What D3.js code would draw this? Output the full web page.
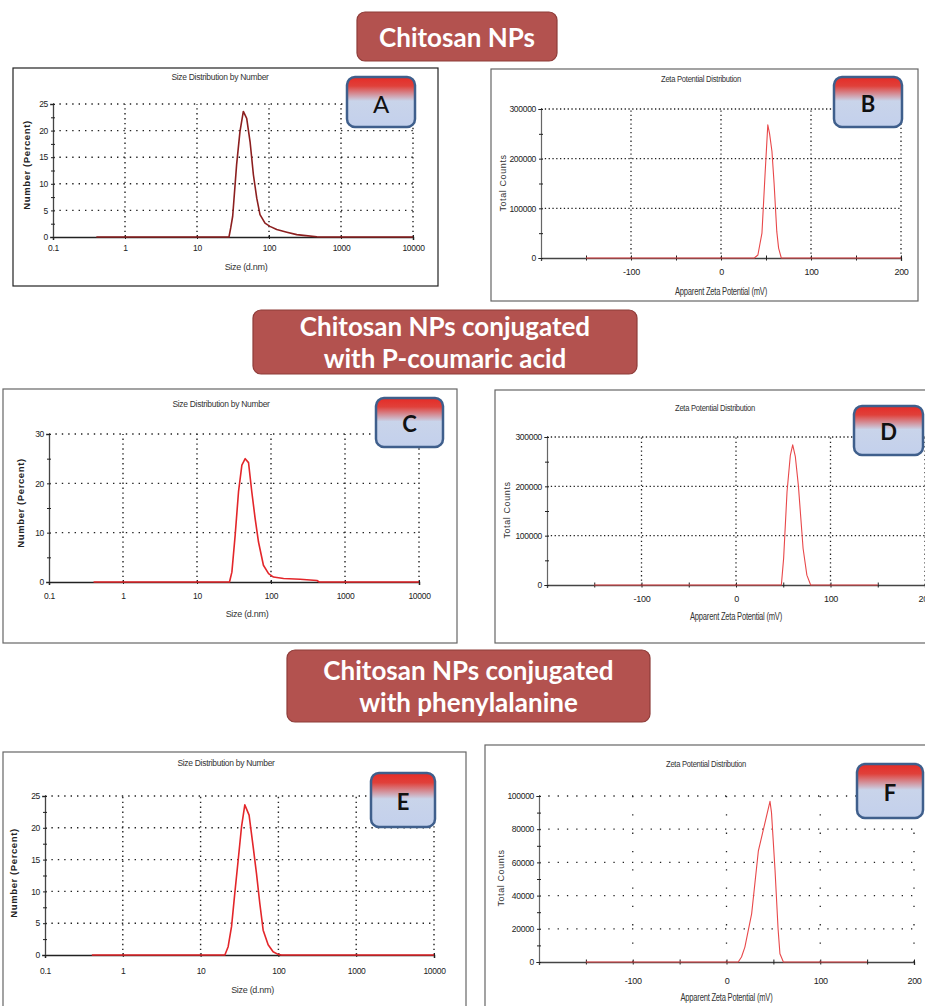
<!DOCTYPE html>
<html><head><meta charset="utf-8">
<script src="https://cdn.jsdelivr.net/npm/d3@7"></script>
<style>body{margin:0;background:#fff}svg{display:block}</style>
</head><body><svg id="c" width="925" height="1006"></svg>
<script>
// ---------- data ----------
const sizeTicks = [0.1, 1, 10, 100, 1000, 10000];
const zetaTicks = [-150, -100, -50, 0, 50, 100, 150, 200];
const zetaLabels = [-100, 0, 100, 200];
const pctTicksAE = [0, 5, 10, 15, 20, 25];
const pctTicksC = [0, 10, 20, 30];
const countTicksBD = [0, 100000, 200000, 300000];
const countTicksF = [0, 20000, 40000, 60000, 80000, 100000];

const sizeA_nm  = [0.4, 27.8, 29.4, 31.3, 35.5, 39.5, 44, 49, 54.6, 60.7, 67.6, 75, 88, 103, 128, 177, 243, 301, 462, 520, 10000];
const sizeA_pct = [0, 0, 1.7, 3.9, 13.6, 19.8, 23.6, 22.3, 17.9, 11.7, 7.3, 4.2, 2.6, 2.0, 1.4, 0.9, 0.45, 0.3, 0.05, 0, 0];

const sizeC_nm  = [0.4, 27.5, 29.6, 32.8, 36.4, 40.4, 44.8, 49.7, 55, 61, 67.8, 79, 92.7, 108, 148, 248, 417, 450, 10000];
const sizeC_pct = [0, 0, 2.0, 9.5, 18.3, 23.7, 25.0, 24.2, 18.3, 12.9, 8.1, 3.4, 1.7, 1.0, 0.7, 0.55, 0.3, 0, 0];

const sizeE_nm  = [0.4, 20.5, 22.6, 25, 27.5, 30.4, 33.6, 37, 42, 47.4, 52.3, 57.7, 63.7, 73.8, 85.5, 99, 110, 10000];
const sizeE_pct = [0, 0, 1.3, 4.5, 9.7, 14.9, 20.2, 23.6, 22.0, 17, 12.8, 8.1, 3.9, 1.6, 0.5, 0.1, 0, 0];

const zetaB_mv  = [-150, 37, 41, 45.5, 49, 52, 54, 56.6, 59, 62, 64, 67, 200];
const zetaB_cnt = [0, 0, 6000, 50000, 170000, 268000, 250000, 215000, 150000, 53000, 20000, 0, 0];

const zetaD_mv  = [-150, 48, 50.4, 54, 57.5, 60, 62.8, 66, 71, 75, 79, 150];
const zetaD_cnt = [0, 0, 54000, 189000, 263000, 284000, 260000, 202000, 74000, 20000, 0, 0];

const zetaF_mv  = [-150, 12.5, 16, 19.6, 26.8, 34, 39, 46.4, 48, 51.8, 55, 57, 60.7, 150];
const zetaF_cnt = [0, 0, 3000, 9000, 29000, 67000, 79000, 96800, 90000, 55000, 20000, 5000, 0, 0];

const bannerTexts = [["Chitosan NPs"], ["Chitosan NPs conjugated", "with P-coumaric acid"], ["Chitosan NPs conjugated", "with phenylalanine"]];
const badgeLetters = ["A", "B", "C", "D", "E", "F"];

// ---------- drawing ----------
const svg = d3.select("#c");
const FONT = "'Liberation Sans',Arial,sans-serif";
const defs = svg.append("defs");
const grad = defs.append("linearGradient").attr("id", "badgeGrad").attr("x1", 0).attr("y1", 0).attr("x2", 0).attr("y2", 1);
grad.append("stop").attr("offset", "0%").attr("stop-color", "#e52b26");
grad.append("stop").attr("offset", "18%").attr("stop-color", "#e0403a");
grad.append("stop").attr("offset", "48%").attr("stop-color", "#c9d4ea");
grad.append("stop").attr("offset", "100%").attr("stop-color", "#c3d0ec");

function banner(b, lines) {
  const g = svg.append("g");
  g.append("rect").attr("x", b.x).attr("y", b.y).attr("width", b.w).attr("height", b.h)
    .attr("rx", 8).attr("fill", "#b3524f").attr("stroke", "#8e3c39").attr("stroke-width", 1.2);
  const n = lines.length, lh = 31.5;
  lines.forEach((t, i) => {
    g.append("text").attr("x", b.x + b.w / 2).attr("y", b.y + b.h / 2 + (i - (n - 1) / 2) * lh)
      .attr("text-anchor", "middle").attr("dominant-baseline", "central")
      .attr("font-family", "Lato,'Open Sans',sans-serif").attr("font-weight", "bold")
      .attr("font-size", 26).attr("fill", "#fff").text(t);
  });
}

function badge(b, letter, bold) {
  const g = svg.append("g");
  g.append("rect").attr("x", b.x).attr("y", b.y).attr("width", b.w).attr("height", b.h)
    .attr("rx", 8).attr("fill", "url(#badgeGrad)").attr("stroke", "#3f5f8c").attr("stroke-width", 2.5);
  g.append("text").attr("x", b.x + b.w / 2).attr("y", b.y + b.h / 2 + 1)
    .attr("text-anchor", "middle").attr("dominant-baseline", "central")
    .attr("font-family", "Lato,'Open Sans',sans-serif").attr("font-weight", bold ? "bold" : "normal")
    .attr("font-size", bold ? 22 : 24).attr("fill", "#111").text(letter);
}

function frame(f, color) {
  svg.append("rect").attr("x", f.x0).attr("y", f.y0).attr("width", f.x1 - f.x0).attr("height", f.y1 - f.y0)
    .attr("fill", "#fff").attr("stroke", color || "#666").attr("stroke-width", 1.2);
}

function styleText(sel, size) {
  return sel.attr("font-family", FONT).attr("font-size", size).attr("letter-spacing", -0.3).attr("fill", "#222");
}

function sizePanel(p) {
  frame(p.frame, p.frameColor);
  const x = d3.scaleLog().domain([0.1, 10000]).range([p.x0, p.x1]);
  const y = d3.scaleLinear().domain([0, p.ymax]).range([p.y0, p.yTop]);
  const g = svg.append("g");
  g.selectAll(".hg").data(p.yTicks.filter(d => d > 0)).join("line")
    .attr("x1", p.x0).attr("x2", p.x1).attr("y1", d => y(d)).attr("y2", d => y(d))
    .attr("stroke", "#222").attr("stroke-width", 1.4).attr("stroke-dasharray", "1.4,5");
  g.selectAll(".vg").data(sizeTicks.slice(1)).join("line")
    .attr("x1", d => x(d)).attr("x2", d => x(d)).attr("y1", p.y0).attr("y2", p.yTop)
    .attr("stroke", "#222").attr("stroke-width", 1.4).attr("stroke-dasharray", "1.4,3.5");
  const xa = g.append("g").attr("transform", `translate(0,${p.y0})`)
    .call(d3.axisBottom(x).tickValues(sizeTicks).tickFormat(d => String(d)).tickSize(3).tickPadding(p.tickPad));
  xa.select(".domain").attr("stroke", "#222").attr("stroke-width", 1.5);
  xa.selectAll(".tick line").attr("y1", -2).attr("y2", 2).attr("stroke", "#222");
  styleText(xa.selectAll("text"), 8.5);
  const minor = d3.range(0, p.ymax + 0.001, p.yMinor);
  const ya = g.append("g").attr("transform", `translate(${p.x0},0)`)
    .call(d3.axisLeft(y).tickValues(minor).tickFormat(d => p.yTicks.includes(d) ? d : "").tickSize(3).tickPadding(2));
  ya.select(".domain").attr("stroke", "#444").attr("stroke-width", 1.3);
  ya.selectAll(".tick line").attr("x1", -2).attr("x2", 2).attr("stroke", "#222");
  styleText(ya.selectAll("text"), 8.5);
  const pts = p.xs.map((v, i) => [v, p.ys[i]]);
  g.append("path").datum(pts)
    .attr("d", d3.line().x(d => x(d[0])).y(d => y(d[1])))
    .attr("fill", "none").attr("stroke", p.color).attr("stroke-width", 1.6).attr("stroke-linejoin", "round");
  styleText(svg.append("text").attr("x", p.titleX).attr("y", p.titleY).attr("text-anchor", "middle"), 8.5)
    .attr("fill", "#333").text("Size Distribution by Number");
  styleText(svg.append("text").attr("x", (p.x0 + p.x1) / 2 + 13).attr("y", p.xlabY).attr("text-anchor", "middle"), 9)
    .attr("fill", "#333").text("Size (d.nm)");
  styleText(svg.append("text").attr("transform", `translate(${p.ylabX},${p.ylabY}) rotate(-90)`).attr("text-anchor", "middle"), 9.5)
    .attr("font-weight", "bold").attr("letter-spacing", 0.6).text("Number (Percent)");
}

function zetaPanel(p) {
  frame(p.frame, p.frameColor);
  const x = d3.scaleLinear().domain([-200, 200]).range([p.x0, p.x1]);
  const y = d3.scaleLinear().domain([0, p.ymax]).range([p.y0, p.yTop]);
  const g = svg.append("g");
  g.selectAll(".hg").data(p.yTicks.filter(d => d > 0)).join("line")
    .attr("x1", p.x0).attr("x2", p.x1).attr("y1", d => y(d)).attr("y2", d => y(d))
    .attr("stroke", "#222").attr("stroke-width", 1.3).attr("stroke-dasharray", p.hDash);
  g.selectAll(".vg").data(zetaLabels).join("line")
    .attr("x1", d => x(d)).attr("x2", d => x(d)).attr("y1", p.y0).attr("y2", p.yTop)
    .attr("stroke", "#222").attr("stroke-width", 1.3).attr("stroke-dasharray", p.vDash);
  const xa = g.append("g").attr("transform", `translate(0,${p.y0})`)
    .call(d3.axisBottom(x).tickValues(zetaTicks).tickFormat(d => zetaLabels.includes(d) ? d : "").tickSize(3).tickPadding(p.tickPad));
  xa.select(".domain").attr("stroke", "#444").attr("stroke-width", 1.3);
  xa.selectAll(".tick line").attr("y1", -2.5).attr("y2", 2.5).attr("stroke", "#222");
  styleText(xa.selectAll("text"), 9);
  const minor = d3.range(0, p.ymax + 1, p.yMinor);
  const ya = g.append("g").attr("transform", `translate(${p.x0},0)`)
    .call(d3.axisLeft(y).tickValues(minor).tickFormat(d => p.yTicks.includes(d) ? d : "").tickSize(3).tickPadding(2));
  ya.select(".domain").attr("stroke", "#666").attr("stroke-width", 1.2);
  ya.selectAll(".tick line").attr("x1", -2).attr("x2", 2).attr("stroke", "#222");
  styleText(ya.selectAll("text"), 8.5);
  const pts = p.xs.map((v, i) => [v, p.ys[i]]);
  g.append("path").datum(pts)
    .attr("d", d3.line().x(d => x(d[0])).y(d => y(d[1])))
    .attr("fill", "none").attr("stroke", "#e8484a").attr("stroke-width", 1.1).attr("stroke-linejoin", "round");
  styleText(svg.append("text").attr("x", p.titleX).attr("y", p.titleY).attr("text-anchor", "middle"), 8.5)
    .attr("fill", "#333").attr("textLength", 80).attr("lengthAdjust", "spacingAndGlyphs").text("Zeta Potential Distribution");
  styleText(svg.append("text").attr("x", x(0)).attr("y", p.xlabY).attr("text-anchor", "middle"), 10)
    .attr("fill", "#333").attr("textLength", 92).attr("lengthAdjust", "spacingAndGlyphs").text("Apparent Zeta Potential (mV)");
  svg.append("text").attr("transform", `translate(${p.ylabX},${p.ylabY}) rotate(-90)`).attr("text-anchor", "middle")
    .attr("font-family", FONT).attr("font-size", 9).attr("letter-spacing", 0.6).attr("fill", "#333").text("Total Counts");
}

// banners
banner({x: 357, y: 12, w: 200, h: 49}, bannerTexts[0]);
banner({x: 253, y: 310, w: 384, h: 64}, bannerTexts[1]);
banner({x: 287, y: 650, w: 363, h: 72}, bannerTexts[2]);

// panels
sizePanel({frame: {x0: 13, y0: 68, x1: 438, y1: 286}, frameColor: "#222", x0: 53, x1: 413, y0: 237, yTop: 104, ymax: 25,
  yTicks: pctTicksAE, yMinor: 2.5, xs: sizeA_nm, ys: sizeA_pct, color: "#8c1f1f", tickPad: 5,
  titleX: 220, titleY: 80, xlabY: 270, ylabX: 30, ylabY: 165});
zetaPanel({frame: {x0: 491, y0: 69, x1: 918, y1: 301}, x0: 541, x1: 901, y0: 258, yTop: 109, ymax: 300000,
  yTicks: countTicksBD, yMinor: 50000, xs: zetaB_mv, ys: zetaB_cnt, hDash: "1.3,2.5", vDash: "1.3,3", tickPad: 8,
  titleX: 701, titleY: 82, xlabY: 295, ylabX: 506, ylabY: 183});
sizePanel({frame: {x0: 3, y0: 389, x1: 457, y1: 643}, frameColor: "#666", x0: 49, x1: 419, y0: 582, yTop: 434, ymax: 30,
  yTicks: pctTicksC, yMinor: 5, xs: sizeC_nm, ys: sizeC_pct, color: "#e3262a", tickPad: 8,
  titleX: 221, titleY: 407, xlabY: 617, ylabX: 24, ylabY: 503});
zetaPanel({frame: {x0: 495, y0: 390, x1: 940, y1: 643}, x0: 547, x1: 925, y0: 585, yTop: 437, ymax: 300000,
  yTicks: countTicksBD, yMinor: 50000, xs: zetaD_mv, ys: zetaD_cnt, hDash: "1.3,2.5", vDash: "1.3,3", tickPad: 8,
  titleX: 715, titleY: 411, xlabY: 620, ylabX: 510, ylabY: 510});
sizePanel({frame: {x0: 3, y0: 752, x1: 466, y1: 1012}, frameColor: "#666", x0: 45, x1: 434, y0: 955, yTop: 796, ymax: 25,
  yTicks: pctTicksAE, yMinor: 2.5, xs: sizeE_nm, ys: sizeE_pct, color: "#e3262a", tickPad: 10,
  titleX: 226, titleY: 766, xlabY: 993, ylabX: 17, ylabY: 873});
zetaPanel({frame: {x0: 485, y0: 745, x1: 940, y1: 1012}, x0: 539, x1: 914, y0: 962, yTop: 796, ymax: 100000,
  yTicks: countTicksF, yMinor: 10000, xs: zetaF_mv, ys: zetaF_cnt, hDash: "1.3,8", vDash: "1.3,17", tickPad: 13,
  titleX: 706, titleY: 767, xlabY: 1001, ylabX: 504, ylabY: 878});

// badges
badge({x: 347, y: 77, w: 68, h: 50}, badgeLetters[0], false);
badge({x: 834, y: 77, w: 68, h: 50}, badgeLetters[1], true);
badge({x: 376, y: 398, w: 67, h: 49}, badgeLetters[2], true);
badge({x: 854, y: 406, w: 69, h: 49}, badgeLetters[3], true);
badge({x: 371, y: 773, w: 64, h: 54}, badgeLetters[4], true);
badge({x: 857, y: 764, w: 66, h: 54}, badgeLetters[5], true);
</script></body></html>
